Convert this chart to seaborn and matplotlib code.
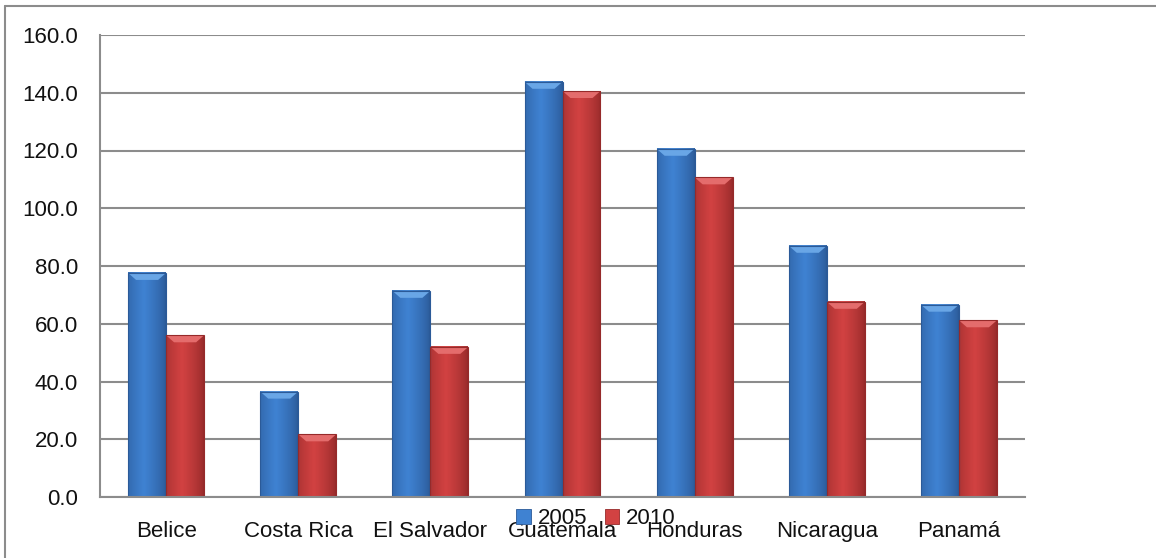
import numpy as np
import pandas as pd
import matplotlib
matplotlib.use("Agg")
import matplotlib.pyplot as plt
from matplotlib.patches import Polygon, Patch
from matplotlib.lines import Line2D
from matplotlib.colors import to_rgb
import seaborn as sns

# --- data -----------------------------------------------------------------
countries = ["Belice", "Costa Rica", "El Salvador", "Guatemala",
             "Honduras", "Nicaragua", "Panamá"]
years = ["2005", "2010"]
values_2005 = [77.6, 36.5, 71.4, 143.8, 120.6, 87.0, 66.6]
values_2010 = [56.0, 21.7, 52.0, 140.6, 110.7, 67.6, 61.2]
y_ticks = [0, 20, 40, 60, 80, 100, 120, 140, 160]

df = pd.DataFrame({
    "pais": countries * 2,
    "anio": [years[0]] * len(countries) + [years[1]] * len(countries),
    "valor": values_2005 + values_2010,
})

# --- style ----------------------------------------------------------------
sns.set_theme(style="white")
plt.rcParams["font.family"] = ["Liberation Sans", "DejaVu Sans"]

grid_gray = "#8c8c8c"
text_color = "#111111"
fs = 16
palette = {"2005": "#3a78c8", "2010": "#c83a3a"}
# colour ramps for the shaded cylinder look: (edge, centre, bevel)
shades = {
    "2005": ("#2b5a98", "#3f82d2", "#69a6e6"),
    "2010": ("#962a2a", "#d24242", "#e46c6c"),
}

fig = plt.figure(figsize=(11.56, 5.58), dpi=100)
W, H = 1156, 558
ax = fig.add_axes([100 / W, 61 / H, 925 / W, 462 / H])

sns.barplot(data=df, x="pais", y="valor", hue="anio", hue_order=years,
            palette=palette, width=0.575, gap=0, legend=False,
            saturation=1, ax=ax, linewidth=0)

ax.set_xlim(-0.5, len(countries) - 0.5)
ax.set_ylim(0, 160)
ax.set_yticks(y_ticks)
ax.set_yticklabels([f"{v:.1f}" for v in y_ticks], fontsize=fs, color=text_color)
ax.set_xlabel("")
ax.set_ylabel("")
ax.tick_params(axis="x", which="major", length=0, pad=17, labelsize=fs,
               labelcolor=text_color)
ax.set_xticks(np.arange(-0.5, len(countries), 1.0), minor=True)
ax.tick_params(axis="x", which="minor", length=6, width=1.5, color=grid_gray,
               direction="out")
ax.tick_params(axis="y", which="major", length=5, width=1.5, color=grid_gray,
               direction="out", pad=11)

ax.set_axisbelow(True)
ax.yaxis.grid(True, color=grid_gray, linewidth=1.5)
ax.xaxis.grid(False)
for side in ("top", "right"):
    ax.spines[side].set_visible(False)
for side in ("left", "bottom"):
    ax.spines[side].set_color(grid_gray)
    ax.spines[side].set_linewidth(1.5)

# --- shaded bars ------------------------------------------------------------
def ramp(edge, centre, n=64):
    e, c = np.array(to_rgb(edge)), np.array(to_rgb(centre))
    t = np.linspace(0, 1, n)
    # brightest slightly left of the middle
    prof = np.clip(1 - np.abs(t - 0.42) / 0.58, 0, 1) ** 0.7
    return (e[None, :] * (1 - prof[:, None]) + c[None, :] * prof[:, None])[None, :, :]

bars = [p for p in ax.patches if p.get_height() > 0]
px_y = 160 / 462.0       # data units per pixel, vertical
px_x = 7 / 925.0         # data units per pixel, horizontal
for i, bar in enumerate(bars):
    year = years[0] if i < len(countries) else years[1]
    edge, centre, bevel = shades[year]
    x0, w, h = bar.get_x(), bar.get_width(), bar.get_height()
    ax.imshow(ramp(edge, centre), extent=[x0, x0 + w, 0, h], aspect="auto",
              interpolation="bilinear", zorder=2.1)
    bh = 7 * px_y
    ins = 8 * px_x
    ax.add_patch(Polygon([(x0, h), (x0 + w, h), (x0 + w - ins, h - bh),
                          (x0 + ins, h - bh)], closed=True,
                         facecolor=bevel, edgecolor="none", zorder=2.2))
    ax.add_patch(plt.Rectangle((x0, 0), w, h, facecolor="none",
                               edgecolor=edge, linewidth=0.8, zorder=2.3))
ax.set_xlim(-0.5, len(countries) - 0.5)
ax.set_ylim(0, 160)

# --- legend ------------------------------------------------------------------
handles = [Patch(facecolor=shades[y][1], edgecolor=shades[y][0], linewidth=0.6)
           for y in years]
fig.legend(handles, years, loc="center", bbox_to_anchor=(596 / W, 1 - 519 / H),
           ncol=2, frameon=False, fontsize=fs, handlelength=0.65,
           handleheight=0.65, handletextpad=0.3, columnspacing=0.8,
           borderpad=0, labelcolor=text_color)

# --- chart frame ---------------------------------------------------------------
fig.add_artist(Line2D([5 / W, 5 / W], [0, 1 - 6 / H], color=grid_gray,
                      linewidth=1.5, transform=fig.transFigure))
fig.add_artist(Line2D([5 / W, 1], [1 - 6 / H, 1 - 6 / H], color=grid_gray,
                      linewidth=1.5, transform=fig.transFigure))

fig.savefig("out.png", dpi=100, facecolor="white")
